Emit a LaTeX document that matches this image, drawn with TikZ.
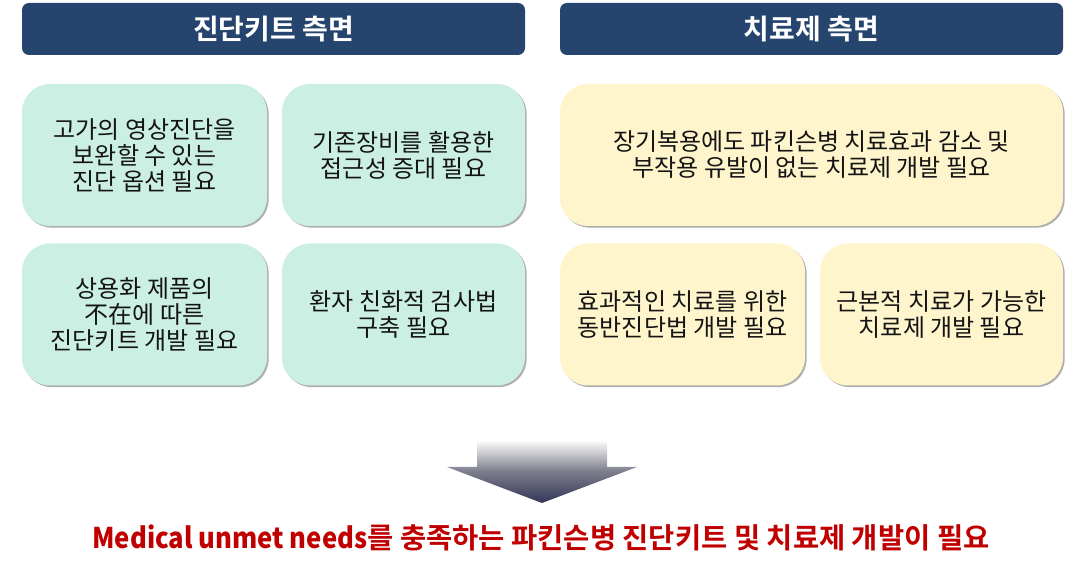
\documentclass[tikz,border=0pt]{standalone}
\usepackage{fontspec}
\setmainfont{Noto Sans CJK KR}[BoldFont={Noto Sans CJK KR Bold}]
\newfontfamily\narrowlatin{Noto Sans CJK KR Bold}[FakeStretch=0.9]
\usetikzlibrary{shadows}
\definecolor{hdrblue}{RGB}{38,69,110}
\definecolor{mint}{RGB}{203,239,226}
\definecolor{cream}{RGB}{255,245,204}
\definecolor{txt}{RGB}{20,20,20}
\definecolor{needred}{RGB}{192,0,0}
\definecolor{arrowdark}{RGB}{52,54,88}
\begin{document}
\begin{tikzpicture}[x=1pt,y=-1pt,
  header/.style={fill=hdrblue, rounded corners=7pt, text=white, font=\bfseries\fontsize{28}{32}\selectfont, inner sep=0pt},
  card/.style={rounded corners=28pt, align=center, text=txt, inner sep=0pt,
    font=\fontsize{24}{26}\selectfont,
    drop shadow={shadow xshift=1.6pt, shadow yshift=-1.6pt, fill=black!45, opacity=0.7}},
  greencard/.style={card, fill=mint},
  yellowcard/.style={card, fill=cream}]
\useasboundingbox (0,0) rectangle (1088,569);
% headers
\node[header, minimum width=503pt, minimum height=52pt] (h1) at (273.5,29) {진단키트 측면};
\node[header, minimum width=503pt, minimum height=52pt] (h2) at (811.5,29) {치료제 측면};
% diagnostic kit cards
\node[greencard, minimum width=245pt, minimum height=142pt] (d1) at (144.5,155) {고가의 영상진단을\\보완할 수 있는\\진단 옵션 필요};
\node[greencard, minimum width=243pt, minimum height=142pt] (d2) at (403.5,155) {기존장비를 활용한\\접근성 증대 필요};
\node[greencard, minimum width=245pt, minimum height=142pt] (d3) at (144.5,314.5) {상용화 제품의\\不在에 따른\\진단키트 개발 필요};
\node[greencard, minimum width=243pt, minimum height=142pt] (d4) at (403.5,314.5) {환자 친화적 검사법\\구축 필요};
% therapy cards
\node[yellowcard, minimum width=503pt, minimum height=142pt] (t1) at (811.5,155) {장기복용에도 파킨슨병 치료효과 감소 및\\부작용 유발이 없는 치료제 개발 필요};
\node[yellowcard, minimum width=245pt, minimum height=142pt] (t2) at (682.5,314.5) {효과적인 치료를 위한\\동반진단법 개발 필요};
\node[yellowcard, minimum width=243pt, minimum height=142pt] (t3) at (941.5,314.5) {근본적 치료가 가능한\\치료제 개발 필요};
% arrow
\shade[top color=white, bottom color=arrowdark, middle color=black!30!arrowdark!60]
  (477,440) -- (607,440) -- (607,467) -- (637,467) -- (542,503) -- (447,467) -- (477,467) -- cycle;
\coordinate (arrtip) at (542,503);
% conclusion
\node[text=needred, font=\bfseries\fontsize{28.5}{32}\selectfont, inner sep=0pt] (goal) at (541,538)
  {{\narrowlatin Medical unmet needs}를 충족하는 파킨슨병 진단키트 및 치료제 개발이 필요};
\end{tikzpicture}
\end{document}
